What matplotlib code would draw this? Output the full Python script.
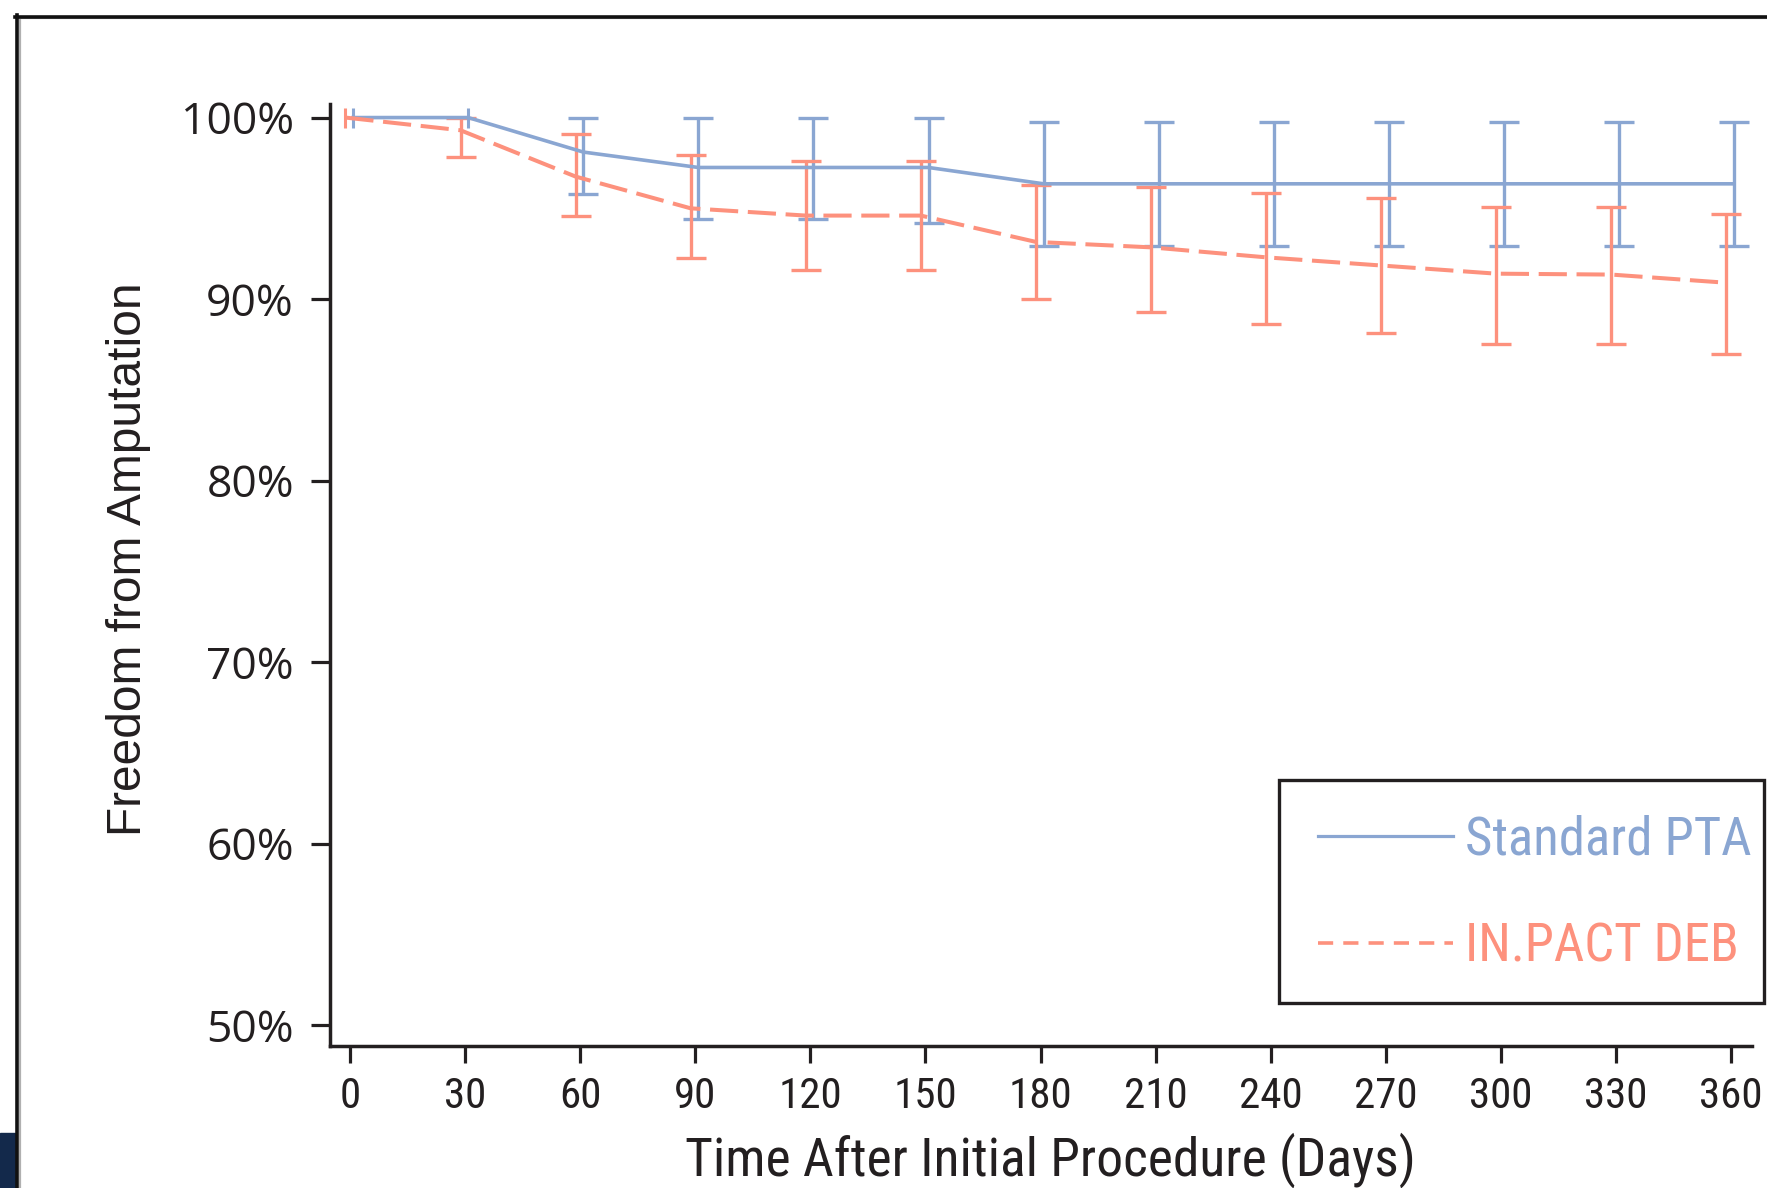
import matplotlib
matplotlib.use('Agg')
import matplotlib.pyplot as plt
from matplotlib.lines import Line2D
from matplotlib.patches import Rectangle

# Kaplan-Meier style freedom from amputation, values in percent
days = [0, 30, 60, 90, 120, 150, 180, 210, 240, 270, 300, 330, 360]

pta_est = [100, 100, 98.1, 97.25, 97.25, 97.25, 96.35, 96.35, 96.35, 96.35, 96.35, 96.35, 96.35]
pta_low = [100, 100, 95.8, 94.4, 94.4, 94.2, 92.9, 92.9, 92.9, 92.9, 92.9, 92.9, 92.9]
pta_high = [100, 100, 100, 100, 100, 100, 99.75, 99.75, 99.75, 99.75, 99.75, 99.75, 99.75]

deb_est = [100, 99.3, 96.75, 95.0, 94.6, 94.6, 93.15, 92.85, 92.3, 91.85, 91.4, 91.35, 90.9]
deb_low = [100, 97.8, 94.6, 92.25, 91.6, 91.6, 90.0, 89.3, 88.65, 88.15, 87.5, 87.5, 87.0]
deb_high = [100, 100, 99.1, 97.95, 97.6, 97.6, 96.3, 96.2, 95.85, 95.55, 95.05, 95.05, 94.7]

y_ticks = [50, 60, 70, 80, 90, 100]
x_ticks = days

BLUE = '#8aa6d2'
SALMON = '#fd917d'
INK = '#231f20'
NARROW = ['Roboto Condensed', 'DejaVu Sans']


def draw_series(ax, x, est, low, high, color, ls, lw, shift):
    xs = [d + shift for d in x]
    ax.plot(xs, est, color=color, ls=ls, lw=lw, zorder=3)
    # points with a real interval get error bars, zero-width ones a tick mark
    for xi, e, lo, hi in zip(xs, est, low, high):
        if hi - lo > 0.5:
            ax.errorbar(xi, e, yerr=[[e - lo], [hi - e]], fmt='none',
                        ecolor=color, elinewidth=2.4, capsize=10.5,
                        capthick=2.4, zorder=2)
        else:
            ax.plot(xi, e, marker='|', ms=15, mew=2.2, color=color, zorder=3)


def main():
    fig = plt.figure(figsize=(17.67, 11.88), dpi=100)
    ax = fig.add_axes([0.1868, 0.1195, 0.8048, 0.793])

    draw_series(ax, days, pta_est, pta_low, pta_high, BLUE, '-', 2.6, 0.8)
    draw_series(ax, days, deb_est, deb_low, deb_high, SALMON, (0, (7, 2.4)), 2.9, -1.2)

    ax.set_xlim(-5.2, 365.5)
    ax.set_ylim(48.85, 100.75)
    ax.set_xticks(x_ticks)
    ax.set_xticklabels([str(d) for d in x_ticks], family=NARROW,
                       fontstretch='condensed', fontsize=31, color=INK)
    ax.set_yticks(y_ticks)
    ax.set_yticklabels(['{}%'.format(v) for v in y_ticks],
                       family=['Open Sans', 'DejaVu Sans'], fontsize=32,
                       color=INK)
    ax.tick_params(axis='y', length=14, width=2.3, pad=12, color=INK)
    ax.tick_params(axis='x', length=12.5, width=2.3, pad=9, color=INK)

    for side in ['top', 'right']:
        ax.spines[side].set_visible(False)
    for side in ['left', 'bottom']:
        ax.spines[side].set_linewidth(2.5)
        ax.spines[side].set_color(INK)

    fig.text(0.073, 0.529, 'Freedom from Amputation', rotation=90,
             ha='center', va='center', fontsize=34.5, color=INK,
             family=['Liberation Sans', 'DejaVu Sans'])
    fig.text(0.5945, 0.0235, 'Time After Initial Procedure (Days)',
             ha='center', va='center', fontsize=38.5, color=INK,
             family=NARROW, fontstretch='condensed')

    # legend entries without frame, box drawn separately
    handles = [Line2D([], [], color=BLUE, lw=2.3),
               Line2D([], [], color=SALMON, lw=2.6, ls=(0, (4.2, 2.8)))]
    ax.legend(handles, ['Standard PTA', 'IN.PACT DEB'],
              loc='center left', bbox_to_anchor=(0.7459, 0.2479),
              bbox_transform=fig.transFigure, borderaxespad=0,
              handlelength=2.55, handletextpad=0.24,
              labelspacing=1.06, borderpad=0, frameon=False,
              labelcolor=[BLUE, SALMON],
              prop={'family': NARROW, 'stretch': 'condensed', 'size': 38})
    fig.add_artist(Rectangle((0.7238, 0.1557), 0.2745, 0.1877, fill=False,
                             ec=INK, lw=2.4, transform=fig.transFigure))

    # page frame around the figure, cut off on the right and bottom
    fig.add_artist(Line2D([0.0098, 1.0], [0.9847, 0.9847], color='#b0b0b0',
                          lw=1.6, transform=fig.transFigure))
    fig.add_artist(Line2D([0.0113, 0.0113], [0.0, 0.9847], color='#b0b0b0',
                          lw=1.6, transform=fig.transFigure))
    fig.add_artist(Line2D([0.0085, 1.0], [0.9857, 0.9857], color='#111111',
                          lw=2.6, transform=fig.transFigure))
    fig.add_artist(Line2D([0.0098, 0.0098], [0.0, 0.9870], color='#111111',
                          lw=2.6, transform=fig.transFigure))
    fig.add_artist(Rectangle((0, 0), 0.0085, 0.046, color='#13294b',
                             transform=fig.transFigure))

    fig.savefig('out.png', dpi=100)


if __name__ == '__main__':
    main()
